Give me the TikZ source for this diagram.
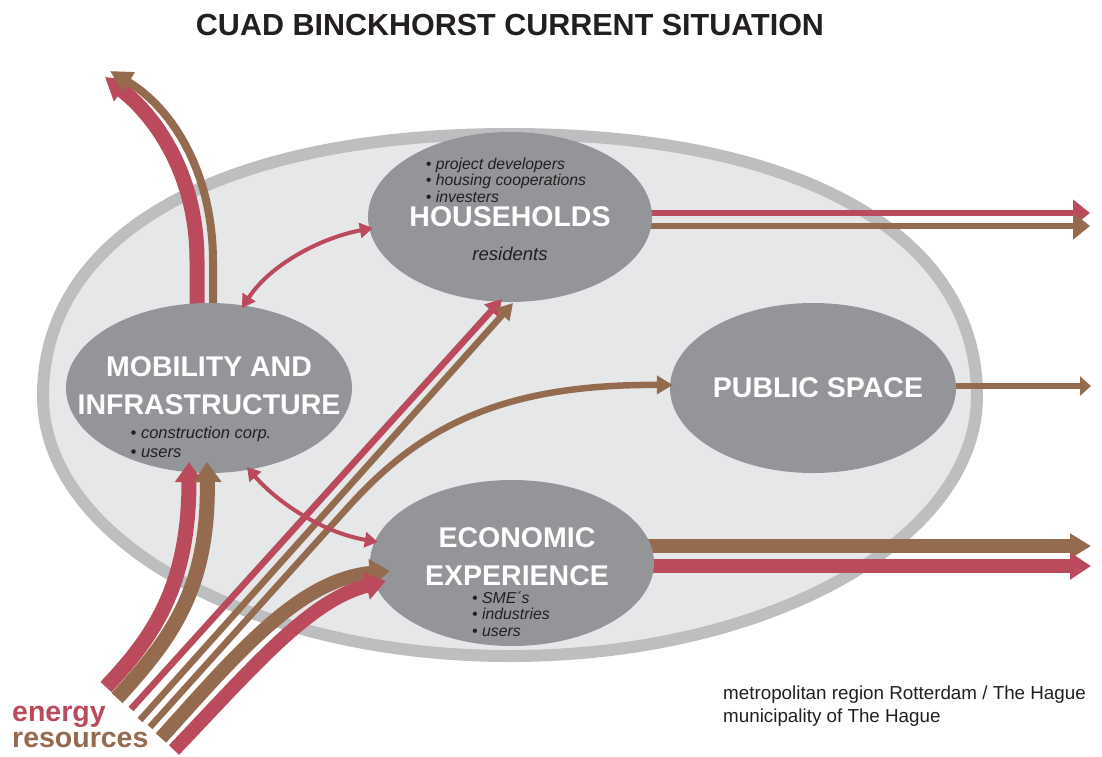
\documentclass[tikz,border=0pt]{standalone}
\usepackage{fontspec}
\setmainfont{Liberation Sans}
\usetikzlibrary{arrows.meta,shapes.geometric,calc,backgrounds}
\definecolor{cRed}{HTML}{BA4A5C}
\definecolor{cBrown}{HTML}{946B4E}
\definecolor{cGray}{HTML}{939598}
\definecolor{cLight}{HTML}{E6E7E8}
\definecolor{cBand}{HTML}{BCBEC0}
\definecolor{cText}{HTML}{231F20}
\tikzset{
  bubble/.style={ellipse, fill=cGray, inner sep=0pt, minimum width=284pt, minimum height=170pt},
  biglabel/.style={text=white, font=\fontsize{28.5}{38}\selectfont\bfseries, align=center, inner sep=0pt},
  smalllabel/.style={text=cText, font=\fontsize{15.8}{16.5}\selectfont\itshape, align=left, inner sep=0pt},
  thickred/.style={draw=cRed, line width=14pt, -{Triangle[length=20pt,width=27pt]}},
  thickbrown/.style={draw=cBrown, line width=14pt, -{Triangle[length=20pt,width=27pt]}},
  thinred/.style={draw=cRed, line width=6.5pt, -{Triangle[length=16pt,width=18pt]}},
  thinbrown/.style={draw=cBrown, line width=6.5pt, -{Triangle[length=16pt,width=18pt]}},
  lineout/.style={line width=6pt, -{Triangle[length=17pt,width=26pt]}},
  twoway/.style={draw=cRed, line width=4pt, {Triangle[length=13pt,width=15pt]}-{Triangle[length=13pt,width=15pt]}},
}
\begin{document}
\begin{tikzpicture}[x=1pt,y=-1pt]
\useasboundingbox (0,0) rectangle (1102,756);

% inner bubbles
\node[bubble] (hh) at (510,217) {};
\node[bubble, minimum width=286pt] (mob) at (209,388) {};
\node[bubble, minimum width=286pt] (ps) at (813,388) {};
\node[bubble, minimum height=166pt] (ec) at (512,563) {};

\begin{scope}[on background layer]
  % big region: flatter top, elliptic bottom
  \draw[draw=cBand, fill=cLight, line width=12pt]
    (977,396) .. controls (977,234) and (799,134) .. (510,134)
              .. controls (221,134) and (43,234) .. (43,396)
              .. controls (43,540) and (252,656) .. (510,656)
              .. controls (768,656) and (977,540) .. cycle;
  % outgoing arrows
  \draw[lineout, draw=cRed] (hh.center |- 0,213) -- (1090,213);
  \draw[lineout, draw=cBrown] (hh.center |- 0,226) -- (1090,226);
  \draw[draw=cBrown, line width=6pt, -{Triangle[length=11pt,width=19pt]}] (ps.center |- 0,386) -- (1091,386);
  \draw[thickbrown, -{Triangle[length=21pt,width=24pt]}] (ec.center |- 0,546) -- (1091,546);
  \draw[thickred, -{Triangle[length=21pt,width=26pt]}] (ec.center |- 0,566) -- (1091,566);
  % up-left from mobility
  \draw[thickred, line width=15pt, -{Triangle[length=22pt,width=26pt]}] (mob.center -| 197,0) -- (197,260) .. controls (197,180) and (160,120) .. (105,77);
  \draw[draw=cBrown, line width=8pt, -{Triangle[length=22pt,width=22pt]}] (mob.center -| 213,0) -- (213,262) .. controls (213,172) and (172,108) .. (110,71);
\end{scope}

% energy strands
\coordinate (s1) at (106,687);
\coordinate (s2) at (117,698);
\coordinate (s3) at (131,709);
\coordinate (s4) at (140,720);
\coordinate (s5) at (150,727);
\coordinate (s6) at (161,738);
\coordinate (s7) at (174,750);

\draw[thickred, line width=15pt] (s1) .. controls (150,640) and (189,590) .. ($(mob.center)+(-20,74)$);
\draw[thickbrown, line width=15pt] (s2) .. controls (170,640) and (209,590) .. ($(mob.center)+(-2,74)$);
\draw[thinred] (s3) -- ($(hh.center)+(-8,82)$);
\draw[thinbrown] (s4) -- ($(hh.center)+(3,86)$);
\draw[thinbrown] (s5) -- (350,505) .. controls (420,428) and (500,384) .. ($(ps.west)+(3,-3)$);
\draw[thickbrown] (s6) .. controls (240,650) and (300,580) .. ($(ec.west)+(20,8)$);
\draw[thickred] (s7) .. controls (255,665) and (310,600) .. ($(ec.west)+(16,18)$);

% two-way arrows
\draw[twoway] ($(mob.center)+(33,-80)$) .. controls (270,265) and (320,238) .. ($(hh.west)+(5,11)$);
\draw[twoway] ($(mob.center)+(38,79)$) .. controls (275,500) and (320,532) .. ($(ec.west)+(8,-21)$);

% labels
\node[text=cText, font=\fontsize{30.5}{32}\selectfont\bfseries, inner sep=0pt] (title) at (510,25) {CUAD BINCKHORST CURRENT SITUATION};

\node[smalllabel] (hhlist) at (506,180) {\textbullet\ project developers\\\textbullet\ housing cooperations\\\textbullet\ investers};
\node[biglabel] (hhname) at (510,217) {HOUSEHOLDS};
\node[text=cText, font=\fontsize{18.5}{19}\selectfont\itshape, inner sep=0pt] (hhres) at (510,254) {residents};

\node[biglabel] (mobname) at (209,386) {MOBILITY AND\\INFRASTRUCTURE};
\node[smalllabel, font=\fontsize{16.5}{19}\selectfont\itshape] (moblist) at (201,442) {\textbullet\ construction corp.\\\textbullet\ users};

\node[biglabel] (psname) at (818,388) {PUBLIC SPACE};

\node[biglabel] (ecname) at (517,557) {ECONOMIC\\EXPERIENCE};
\node[smalllabel, anchor=west] (eclist) at (472,614) {\textbullet\ SME´s\\\textbullet\ industries\\\textbullet\ users};

\node[font=\fontsize{28.5}{26.5}\selectfont\bfseries, align=left, anchor=west, inner sep=0pt] (energy) at (12,727) {\textcolor{cRed}{energy}\\\textcolor{cBrown}{resources}};

\node[text=cText, font=\fontsize{18.8}{23}\selectfont, align=left, anchor=west, inner sep=0pt] (region) at (723,706) {metropolitan region Rotterdam / The Hague\\municipality of The Hague};
\end{tikzpicture}
\end{document}
